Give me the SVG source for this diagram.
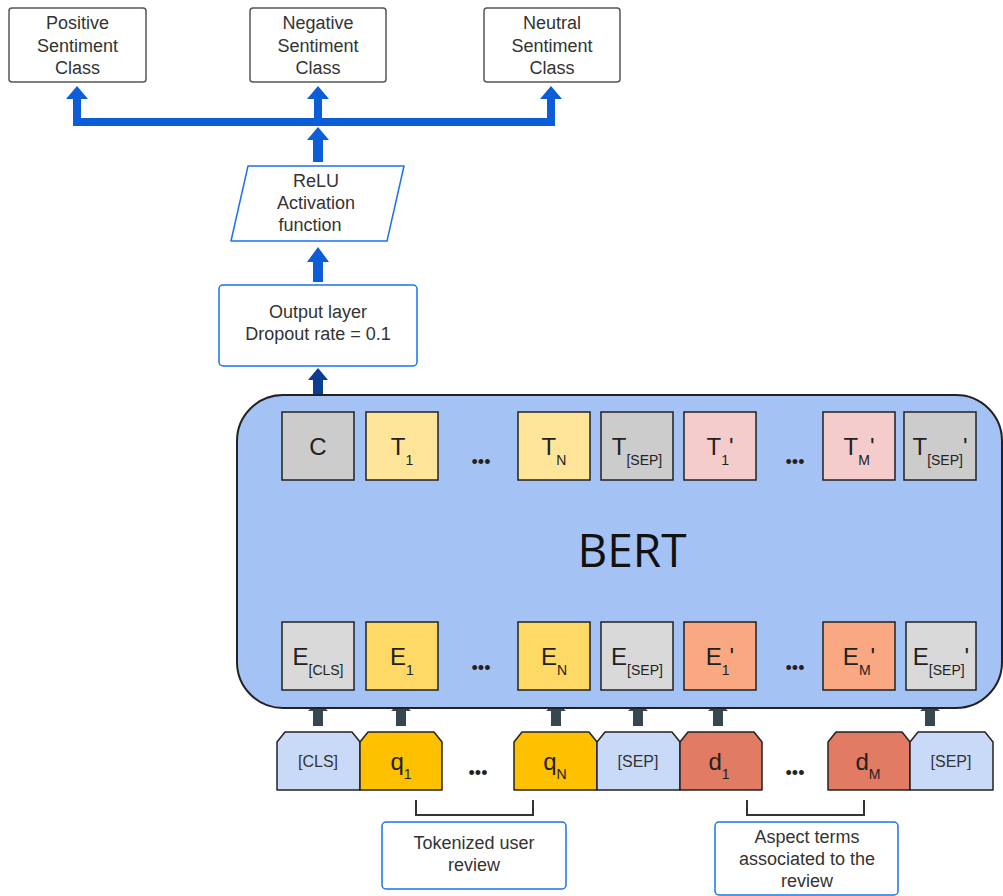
<svg xmlns="http://www.w3.org/2000/svg" width="1003" height="896" viewBox="0 0 1003 896">
<style>
text{font-family:"Liberation Sans",Arial,sans-serif;fill:#333;text-anchor:middle}
.cls{fill:#fff;stroke:#555;stroke-width:1.5}
.bl{fill:#fff;stroke:#1a73e8;stroke-width:1.5}
.t{font-size:18px}
.big{font-size:24px;fill:#222}
.sub{font-size:14px}
.bx{stroke:#222;stroke-width:1.5}
.tok{stroke:#222;stroke-width:1.5;stroke-linejoin:round}
.dots{font-size:18px;fill:#222}
.ab{fill:#0b5ed7}
.an{fill:#0b3d91}
.as{fill:#37474f}
</style>
<g id="connectors">
<rect class="ab" x="73" y="118" width="482" height="8"/>
<polygon class="ab" points="73,126 73,99 66,99 77,86 88,99 81,99 81,126"/>
<polygon class="ab" points="314,126 314,99 307,99 318,86 329,99 322,99 322,126"/>
<polygon class="ab" points="547,126 547,99 540,99 551,86 562,99 555,99 555,126"/>
<polygon class="ab" points="313,162 313,140 307,140 318,127 329,140 323,140 323,162"/>
<polygon class="ab" points="313,282 313,262 307,262 318,247 329,262 323,262 323,282"/>
<polygon class="an" points="313,405 313,380 308,380 318,368 328,380 323,380 323,405"/>
<polygon class="as" points="313,726 313,711 308,711 318,701 328,711 323,711 323,726"/>
<polygon class="as" points="396,726 396,711 391,711 401,701 411,711 406,711 406,726"/>
<polygon class="as" points="551,726 551,711 546,711 556,701 566,711 561,711 561,726"/>
<polygon class="as" points="633,726 633,711 628,711 638,701 648,711 643,711 643,726"/>
<polygon class="as" points="713,726 713,711 708,711 718,701 728,711 723,711 723,726"/>
<polygon class="as" points="925,726 925,711 920,711 930,701 940,711 935,711 935,726"/>
<path d="M416,800 V815 H533 V800" fill="none" stroke="#333" stroke-width="2"/>
<path d="M747,800 V815 H864 V800" fill="none" stroke="#333" stroke-width="2"/>
</g>
<g id="positive">
<rect class="cls" x="9" y="8" width="137" height="74" rx="3"/>
<text class="t" x="77.5" y="29">Positive</text>
<text class="t" x="77.5" y="52">Sentiment</text>
<text class="t" x="77.5" y="74">Class</text>
</g>
<g id="negative">
<rect class="cls" x="250" y="8" width="136" height="74" rx="3"/>
<text class="t" x="318" y="29">Negative</text>
<text class="t" x="318" y="52">Sentiment</text>
<text class="t" x="318" y="74">Class</text>
</g>
<g id="neutral">
<rect class="cls" x="484" y="8" width="136" height="74" rx="3"/>
<text class="t" x="552" y="29">Neutral</text>
<text class="t" x="552" y="52">Sentiment</text>
<text class="t" x="552" y="74">Class</text>
</g>
<g id="relu">
<polygon class="bl" points="248,166 404,166 387,241 231,241" stroke-linejoin="round"/>
<text class="t" x="316" y="187">ReLU</text>
<text class="t" x="316" y="209">Activation</text>
<text class="t" x="310" y="231">function</text>
</g>
<g id="output">
<rect class="bl" x="219" y="285" width="198" height="81" rx="4"/>
<text class="t" x="318" y="318">Output layer</text>
<text class="t" x="318" y="340">Dropout rate = 0.1</text>
</g>
<g id="bert">
<rect x="237" y="395" width="765" height="313" rx="46" fill="#a4c2f4" stroke="#222" stroke-width="2"/>
<text x="632" y="567" style="font-family:'Open Sans','Liberation Sans',sans-serif;font-size:46px;fill:#111">BERT</text>
</g>
<g id="T-row">
<rect class="bx" x="282" y="412" width="72" height="68" fill="#cccccc"/>
<text class="big" x="318" y="455">C</text>
<rect class="bx" x="366" y="412" width="72" height="68" fill="#ffe599"/>
<text class="big" x="402" y="455">T<tspan class="sub" dy="10">1</tspan></text>
<text class="dots" x="481" y="468">•••</text>
<rect class="bx" x="518" y="412" width="72" height="68" fill="#ffe599"/>
<text class="big" x="554" y="455">T<tspan class="sub" dy="10">N</tspan></text>
<rect class="bx" x="601" y="412" width="72" height="68" fill="#cccccc"/>
<text class="big" x="637" y="455">T<tspan class="sub" dy="10">[SEP]</tspan></text>
<rect class="bx" x="684" y="412" width="72" height="68" fill="#f4cccc"/>
<text class="big" x="720" y="455">T<tspan class="sub" dy="10">1</tspan><tspan dy="-10">'</tspan></text>
<text class="dots" x="795" y="468">•••</text>
<rect class="bx" x="823" y="412" width="72" height="68" fill="#f4cccc"/>
<text class="big" x="859" y="455">T<tspan class="sub" dy="10">M</tspan><tspan dy="-10">'</tspan></text>
<rect class="bx" x="904" y="412" width="72" height="68" fill="#cccccc"/>
<text class="big" x="940" y="455">T<tspan class="sub" dy="10">[SEP]</tspan><tspan dy="-10">'</tspan></text>
</g>
<g id="E-row">
<rect class="bx" x="282" y="622" width="72" height="68" fill="#d9d9d9"/>
<text class="big" x="318" y="665">E<tspan class="sub" dy="10">[CLS]</tspan></text>
<rect class="bx" x="366" y="622" width="72" height="68" fill="#ffd966"/>
<text class="big" x="402" y="665">E<tspan class="sub" dy="10">1</tspan></text>
<text class="dots" x="481" y="674">•••</text>
<rect class="bx" x="518" y="622" width="72" height="68" fill="#ffd966"/>
<text class="big" x="554" y="665">E<tspan class="sub" dy="10">N</tspan></text>
<rect class="bx" x="601" y="622" width="72" height="68" fill="#d9d9d9"/>
<text class="big" x="637" y="665">E<tspan class="sub" dy="10">[SEP]</tspan></text>
<rect class="bx" x="684" y="622" width="72" height="68" fill="#f9a882"/>
<text class="big" x="720" y="665">E<tspan class="sub" dy="10">1</tspan><tspan dy="-10">'</tspan></text>
<text class="dots" x="795" y="674">•••</text>
<rect class="bx" x="823" y="622" width="72" height="68" fill="#f9a882"/>
<text class="big" x="859" y="665">E<tspan class="sub" dy="10">M</tspan><tspan dy="-10">'</tspan></text>
<rect class="bx" x="906" y="622" width="70" height="68" fill="#d9d9d9"/>
<text class="big" x="941" y="665">E<tspan class="sub" dy="10">[SEP]</tspan><tspan dy="-10">'</tspan></text>
</g>
<g id="tokens">
<path class="tok" d="M277,790 V742 L285,732 H352 L360,742 V790 Z" fill="#c9daf8"/>
<text x="318" y="767" style="font-size:16px">[CLS]</text>
<path class="tok" d="M360,790 V742 L368,732 H434 L442,742 V790 Z" fill="#ffc000"/>
<text class="big" x="401" y="770">q<tspan class="sub" dy="9">1</tspan></text>
<text class="dots" x="478" y="779">•••</text>
<path class="tok" d="M514,790 V742 L522,732 H589 L597,742 V790 Z" fill="#ffc000"/>
<text class="big" x="555" y="770">q<tspan class="sub" dy="9">N</tspan></text>
<path class="tok" d="M597,790 V742 L605,732 H672 L680,742 V790 Z" fill="#c9daf8"/>
<text x="638" y="767" style="font-size:16px">[SEP]</text>
<path class="tok" d="M680,790 V742 L688,732 H754 L762,742 V790 Z" fill="#e17b64"/>
<text class="big" x="719" y="770">d<tspan class="sub" dy="9">1</tspan></text>
<text class="dots" x="795" y="779">•••</text>
<path class="tok" d="M828,790 V742 L836,732 H902 L910,742 V790 Z" fill="#e17b64"/>
<text class="big" x="868" y="770">d<tspan class="sub" dy="9">M</tspan></text>
<path class="tok" d="M910,790 V742 L918,732 H985 L993,742 V790 Z" fill="#c9daf8"/>
<text x="951" y="767" style="font-size:16px">[SEP]</text>
</g>
<g id="tokenized">
<rect class="bl" x="382" y="822" width="184" height="67" rx="4"/>
<text class="t" x="474" y="849">Tokenized user</text>
<text class="t" x="474" y="871">review</text>
</g>
<g id="aspect">
<rect class="bl" x="715" y="822" width="183" height="73" rx="4"/>
<text class="t" x="807" y="843">Aspect terms</text>
<text class="t" x="807" y="865">associated to the</text>
<text class="t" x="807" y="887">review</text>
</g>
</svg>
